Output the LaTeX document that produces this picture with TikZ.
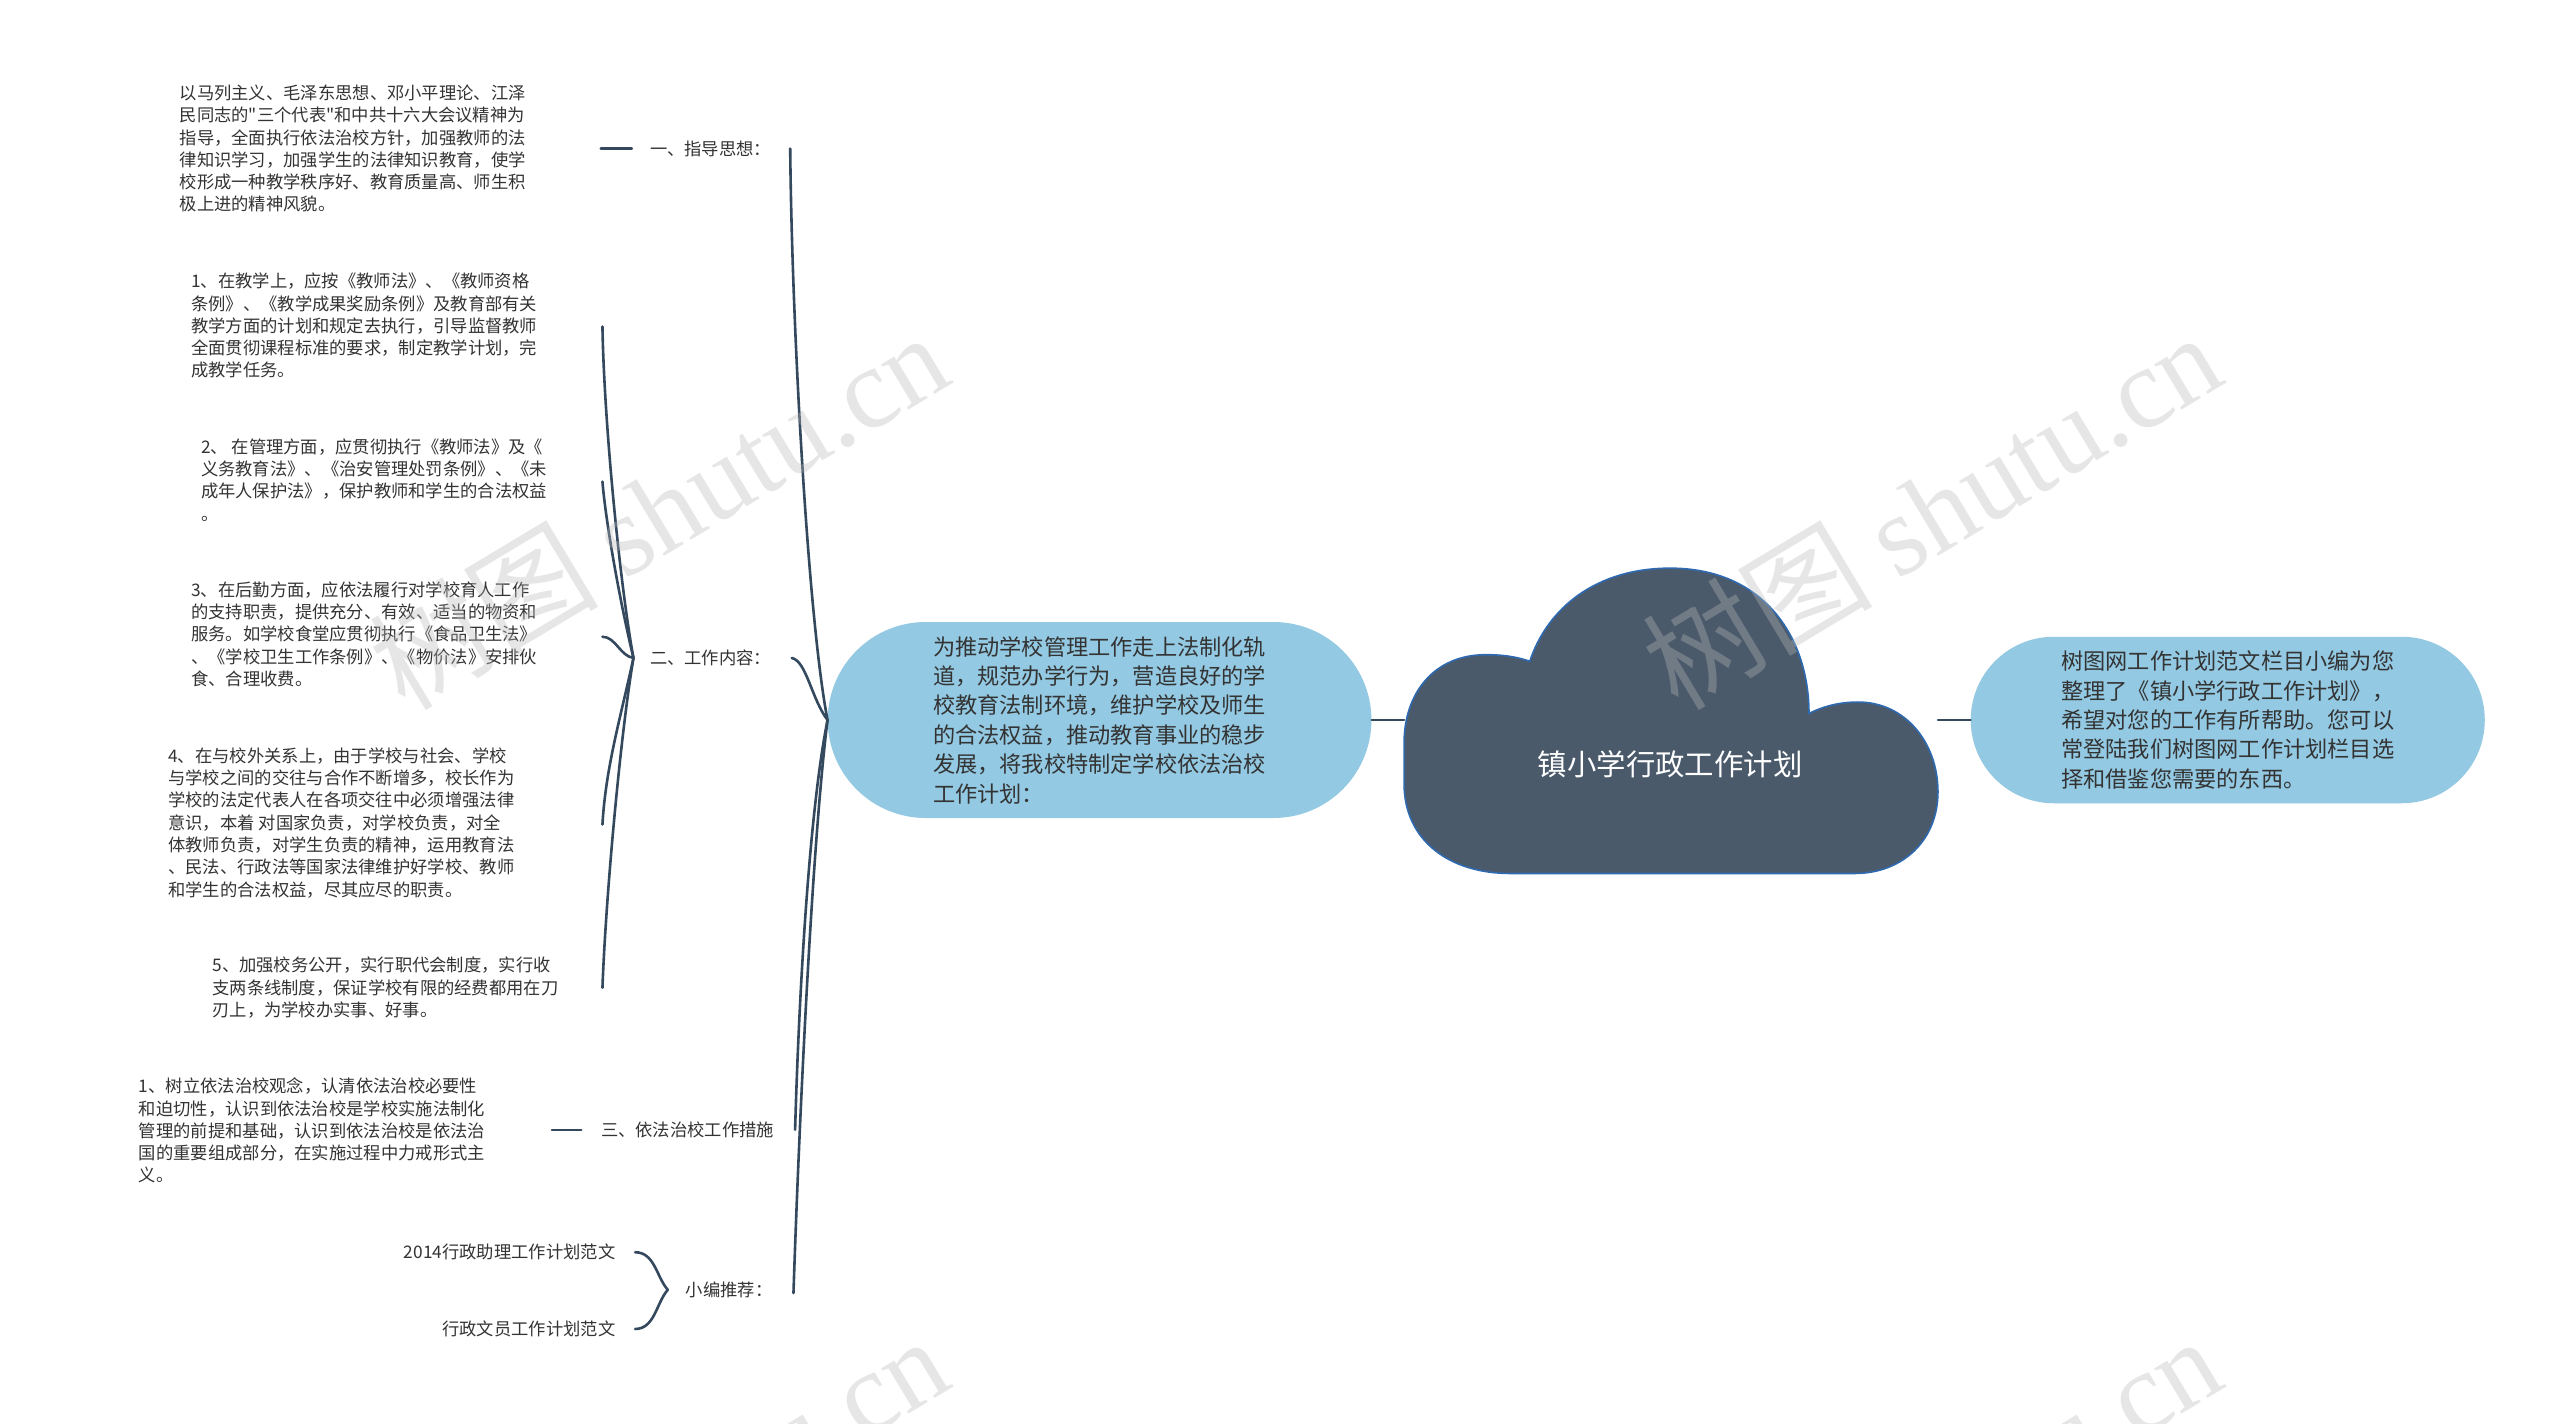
\documentclass[tikz,border=0pt]{standalone}
\usepackage{fontspec}
\setmainfont{Noto Sans CJK SC}
\newfontfamily\cjkfont{Noto Sans CJK SC}
\newfontfamily\wmlat{Liberation Serif}
\usetikzlibrary{calc}
\definecolor{linec}{HTML}{34495E}
\definecolor{txt}{HTML}{333333}
\definecolor{bubblec}{HTML}{93C9E2}
\definecolor{cloudc}{HTML}{4A5A6B}
\definecolor{cloudb}{HTML}{2F6AB0}
\tikzset{
  conn/.style={draw=linec, line width=2.6pt, line cap=round},
  smalltext/.style={font=\cjkfont\fontsize{17.3}{22.3}\selectfont, text=txt, align=left, inner sep=0pt, anchor=west},
  labtext/.style={font=\cjkfont\fontsize{17.3}{22.3}\selectfont, text=txt, inner sep=0pt},
  bubble/.style={fill=bubblec, font=\cjkfont\fontsize{22.2}{29.4}\selectfont, text=txt, align=left, inner sep=0pt},
  wm/.style={text=gray!55, text opacity=0.35, font=\cjkfont\fontsize{115}{115}\selectfont, inner sep=0pt, rotate=31}
}
\begin{document}
\begin{tikzpicture}[x=1.632653pt,y=-1.632653pt]
\useasboundingbox (0,0) rectangle (1568,872);
\fill[white] (0,0) rectangle (1568,872);

% ---------- left texts ----------
\node[smalltext] (b1) at (110,91) {以马列主义、毛泽东思想、邓小平理论、江泽\\民同志的"三个代表"和中共十六大会议精神为\\指导，全面执行依法治校方针，加强教师的法\\律知识学习，加强学生的法律知识教育，使学\\校形成一种教学秩序好、教育质量高、师生积\\极上进的精神风貌。};
\node[smalltext] (b2) at (117,199.5) {1、在教学上，应按《教师法》、《教师资格\\条例》、《教学成果奖励条例》及教育部有关\\教学方面的计划和规定去执行，引导监督教师\\全面贯彻课程标准的要求，制定教学计划，完\\成教学任务。};
\node[smalltext] (b3) at (123,294) {2、 在管理方面，应贯彻执行《教师法》及《\\义务教育法》、《治安管理处罚条例》、《未\\成年人保护法》，保护教师和学生的合法权益\\。};
\node[smalltext] (b4) at (117,388.5) {3、在后勤方面，应依法履行对学校育人工作\\的支持职责，提供充分、有效、适当的物资和\\服务。如学校食堂应贯彻执行《食品卫生法》\\、《学校卫生工作条例》、《物价法》安排伙\\食、合理收费。};
\node[smalltext] (b5) at (103,504) {4、在与校外关系上，由于学校与社会、学校\\与学校之间的交往与合作不断增多，校长作为\\学校的法定代表人在各项交往中必须增强法律\\意识，本着 对国家负责，对学校负责，对全\\体教师负责，对学生负责的精神，运用教育法\\、民法、行政法等国家法律维护好学校、教师\\和学生的合法权益，尽其应尽的职责。};
\node[smalltext] (b6) at (130,605) {5、加强校务公开，实行职代会制度，实行收\\支两条线制度，保证学校有限的经费都用在刀\\刃上，为学校办实事、好事。};
\node[smalltext] (b7) at (85,692.5) {1、树立依法治校观念，认清依法治校必要性\\和迫切性，认识到依法治校是学校实施法制化\\管理的前提和基础，认识到依法治校是依法治\\国的重要组成部分，在实施过程中力戒形式主\\义。};
\node[labtext, anchor=east] (r1) at (377,767) {2014行政助理工作计划范文};
\node[labtext, anchor=east] (r2) at (377,814) {行政文员工作计划范文};

% ---------- labels ----------
\node[labtext, anchor=west] (l1) at (398,91) {一、指导思想：};
\node[labtext, anchor=west] (l2) at (398,403) {二、工作内容：};
\node[labtext, anchor=west] (l3) at (368,692) {三、依法治校工作措施};
\node[labtext, anchor=west] (l4) at (420,790) {小编推荐：};

% ---------- bubbles ----------
\node[bubble, minimum width=543.7pt, minimum height=196pt, rounded corners=98pt] (n1) at (673.5,441) {为推动学校管理工作走上法制化轨\\道，规范办学行为，营造良好的学\\校教育法制环境，维护学校及师生\\的合法权益，推动教育事业的稳步\\发展，将我校特制定学校依法治校\\工作计划：};
\node[bubble, minimum width=514pt, minimum height=166.5pt, rounded corners=83pt] (n2) at (1364.5,441) {树图网工作计划范文栏目小编为您\\整理了《镇小学行政工作计划》，\\希望对您的工作有所帮助。您可以\\常登陆我们树图网工作计划栏目选\\择和借鉴您需要的东西。};

% ---------- cloud ----------
\path[fill=cloudc, draw=cloudb, line width=1.6pt]
  (925,535) -- (1136,535)
  .. controls (1165,535) and (1187,515) .. (1187,485)
  .. controls (1187,455) and (1167,430) .. (1138,430)
  .. controls (1128,430) and (1118,432) .. (1108,437)
  .. controls (1108,390) and (1080,348) .. (1023,348)
  .. controls (978,348) and (948,372) .. (937,405)
  .. controls (928,402) and (920,401) .. (910,401)
  .. controls (878,401) and (860,425) .. (860,455)
  -- (860,480)
  .. controls (860,515) and (888,535) .. (925,535) -- cycle;
\node[font=\cjkfont\fontsize{29.4}{32}\selectfont, text=white, inner sep=0pt] (root) at (1023,468) {镇小学行政工作计划};
\coordinate (cloudL) at (860,441);
\coordinate (cloudR) at (1187,441);

% ---------- connectors ----------
\draw[conn] (n1.east) -- (cloudL);
\draw[conn] (cloudR) -- (n2.west);

\coordinate (s1) at (484,91);
\coordinate (s2) at (485,403);
\coordinate (s3) at (487,692);
\coordinate (s4) at (486,792);
\draw[conn] (n1.west) .. controls (495,380) and (485,200) .. (s1);
\draw[conn] (n1.west) .. controls (497,428) and (494,405) .. (s2);
\draw[conn] (n1.west) .. controls (495,500) and (489,620) .. (s3);
\draw[conn] (n1.west) .. controls (497,520) and (489,700) .. (s4);

\coordinate (t1a) at (368,91);
\coordinate (t1b) at (387,91);
\draw[conn] (t1a) -- (t1b);
\coordinate (t3a) at (338,692);
\coordinate (t3b) at (356,692);
\draw[conn] (t3a) -- (t3b);

\coordinate (k0) at (388,403);
\coordinate (k1) at (369,200);
\coordinate (k2) at (369,295);
\coordinate (k3) at (369,390);
\coordinate (k4) at (369,505);
\coordinate (k5) at (369,605);
\draw[conn] (k0) .. controls (380,360) and (370,260) .. (k1);
\draw[conn] (k0) .. controls (380,370) and (371,320) .. (k2);
\draw[conn] (k0) .. controls (380,402) and (377,390) .. (k3);
\draw[conn] (k0) .. controls (380,440) and (371,470) .. (k4);
\draw[conn] (k0) .. controls (380,450) and (371,550) .. (k5);

\coordinate (m0) at (409,790);
\coordinate (m1) at (389,767);
\coordinate (m2) at (389,814);
\draw[conn] (m0) .. controls (402,782) and (401,767) .. (m1);
\draw[conn] (m0) .. controls (402,798) and (401,814) .. (m2);

% ---------- watermarks ----------
\node[wm] (w1) at (403,312) {树图 {\wmlat shutu.cn}};
\node[wm] (w2) at (1183,312) {树图 {\wmlat shutu.cn}};
\node[wm] (w3) at (403,927) {树图 {\wmlat shutu.cn}};
\node[wm] (w4) at (1183,927) {树图 {\wmlat shutu.cn}};
\end{tikzpicture}
\end{document}
